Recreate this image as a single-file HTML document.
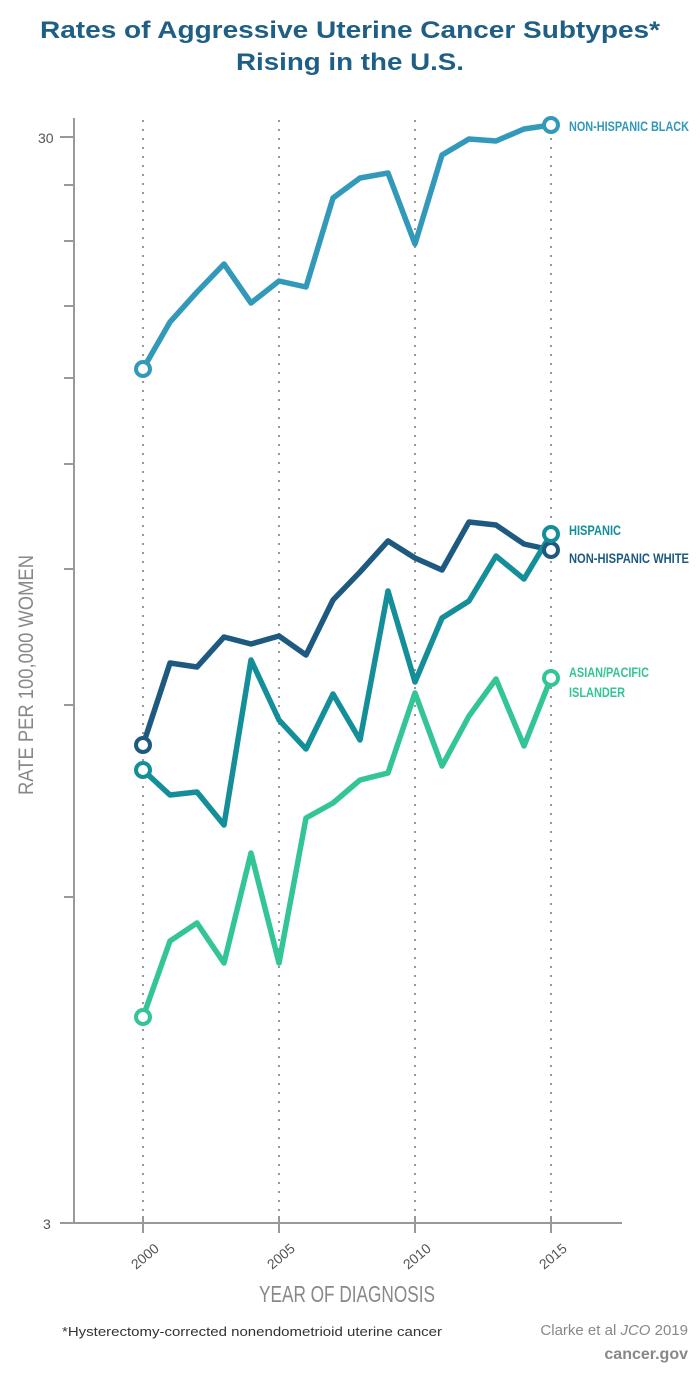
<!DOCTYPE html>
<html><head><meta charset="utf-8"><style>
body{margin:0;background:#fff;}
svg{display:block;}
</style></head><body>
<svg width="700" height="1378" viewBox="0 0 700 1378" xmlns="http://www.w3.org/2000/svg" font-family="Liberation Sans, sans-serif">
<text x="350" y="38" text-anchor="middle" font-size="24" font-weight="bold" fill="#1f5f85" textLength="620" lengthAdjust="spacingAndGlyphs">Rates of Aggressive Uterine Cancer Subtypes*</text>
<text x="350" y="70" text-anchor="middle" font-size="24" font-weight="bold" fill="#1f5f85" textLength="228" lengthAdjust="spacingAndGlyphs">Rising in the U.S.</text>
<g stroke="#999" stroke-width="2" stroke-dasharray="2,7">
<line x1="143" y1="120" x2="143" y2="1220"/><line x1="279" y1="120" x2="279" y2="1220"/>
<line x1="415" y1="120" x2="415" y2="1220"/><line x1="551" y1="120" x2="551" y2="1220"/>
</g>
<g stroke="#999" stroke-width="2">
<line x1="74" y1="118" x2="74" y2="1223"/>
<line x1="60" y1="1223" x2="622" y2="1223"/>
<line x1="60" y1="137" x2="74" y2="137"/>
<line x1="64" y1="185" x2="74" y2="185"/><line x1="64" y1="241" x2="74" y2="241"/>
<line x1="64" y1="306" x2="74" y2="306"/><line x1="64" y1="378" x2="74" y2="378"/>
<line x1="64" y1="464" x2="74" y2="464"/><line x1="64" y1="569" x2="74" y2="569"/>
<line x1="64" y1="705" x2="74" y2="705"/><line x1="64" y1="897" x2="74" y2="897"/>
<line x1="143" y1="1216" x2="143" y2="1233"/><line x1="279" y1="1216" x2="279" y2="1233"/>
<line x1="415" y1="1216" x2="415" y2="1233"/><line x1="551" y1="1216" x2="551" y2="1233"/>
</g>
<g font-size="14" fill="#555">
<text x="38" y="143">30</text><text x="43" y="1229">3</text>
<g font-size="14">
<text transform="translate(148,1260) rotate(-40)" text-anchor="middle">2000</text>
<text transform="translate(284,1260) rotate(-40)" text-anchor="middle">2005</text>
<text transform="translate(420,1260) rotate(-40)" text-anchor="middle">2010</text>
<text transform="translate(556,1260) rotate(-40)" text-anchor="middle">2015</text>
</g>
</g>
<text x="347" y="1302" text-anchor="middle" font-size="23" fill="#888" textLength="176" lengthAdjust="spacingAndGlyphs">YEAR OF DIAGNOSIS</text>
<text transform="translate(33,675) rotate(-90)" text-anchor="middle" font-size="21" fill="#888" textLength="240" lengthAdjust="spacingAndGlyphs">RATE PER 100,000 WOMEN</text>
<text x="62" y="1336" font-size="13" fill="#333" textLength="380" lengthAdjust="spacingAndGlyphs">*Hysterectomy-corrected nonendometrioid uterine cancer</text>
<text x="688" y="1335" text-anchor="end" font-size="15" fill="#888">Clarke et al <tspan font-style="italic">JCO</tspan> 2019</text>
<text x="688" y="1359" text-anchor="end" font-size="16" font-weight="bold" fill="#888">cancer.gov</text>
<g fill="none" stroke-width="5.5" stroke-linejoin="round" stroke-linecap="round">
<polyline stroke="#3399bb" points="143,369 170,322 197,292 224,264 251,303 279,281 306,287 333,198 360,178 388,173 415,244 442,155 469,139 496,141 524,129 551,125"/>
<polyline stroke="#1e5a80" points="143,745 170,663 197,667 224,637 251,644 279,636 306,655 333,600 360,572 388,541 415,558 442,570 469,522 496,525 524,544 551,550"/>
<polyline stroke="#148f99" points="143,770 170,795 197,792 224,825 251,660 279,720 306,749 333,694 360,740 388,591 415,682 442,618 469,601 496,556 524,579 551,534"/>
<polyline stroke="#33c497" points="143,1017 170,941 197,923 224,963 251,853 279,963 306,818 333,803 360,780 388,773 415,693 442,766 469,716 496,679 524,746 551,678"/>
</g>
<g fill="#fff" stroke-width="4">
<circle cx="143" cy="369" r="7" stroke="#3399bb"/><circle cx="551" cy="125" r="7" stroke="#3399bb"/>
<circle cx="143" cy="745" r="7" stroke="#1e5a80"/><circle cx="551" cy="550" r="7" stroke="#1e5a80"/>
<circle cx="143" cy="770" r="7" stroke="#148f99"/><circle cx="551" cy="534" r="7" stroke="#148f99"/>
<circle cx="143" cy="1017" r="7" stroke="#33c497"/><circle cx="551" cy="678" r="7" stroke="#33c497"/>
</g>
<g font-size="14" font-weight="bold">
<text x="569" y="131" fill="#3399bb" textLength="120" lengthAdjust="spacingAndGlyphs">NON-HISPANIC BLACK</text>
<text x="569" y="535" fill="#148f99" textLength="52" lengthAdjust="spacingAndGlyphs">HISPANIC</text>
<text x="569" y="563" fill="#1e5a80" textLength="120" lengthAdjust="spacingAndGlyphs">NON-HISPANIC WHITE</text>
<text x="569" y="677" fill="#33c497" textLength="80" lengthAdjust="spacingAndGlyphs">ASIAN/PACIFIC</text>
<text x="569" y="697" fill="#33c497" textLength="56" lengthAdjust="spacingAndGlyphs">ISLANDER</text>
</g>
</svg>
</body></html>
